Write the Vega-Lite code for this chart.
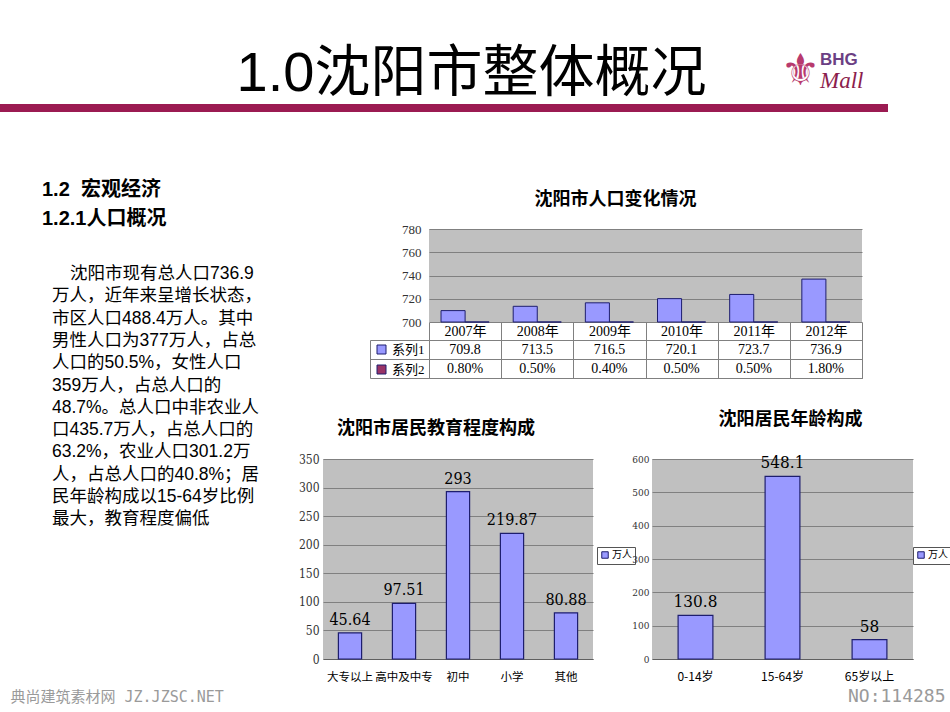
{
  "$schema": "https://vega.github.io/schema/vega-lite/v6.json",
  "padding": {"left": 0, "top": 46, "right": 0, "bottom": 0},
  "background": "#ffffff",
  "bounds": "flush",
  "spacing": 125,
  "config": {"font": "Liberation Sans, Noto Sans CJK SC", "view": {"stroke": null}},
  "resolve": {"scale": {"color": "independent"}, "legend": {"color": "independent"}},
  "datasets": {
    "paragraph": [
      {"line": "沈阳市现有总人口736.9"},
      {"line": "万人，近年来呈增长状态，"},
      {"line": "市区人口488.4万人。其中"},
      {"line": "男性人口为377万人，占总"},
      {"line": "人口的50.5%，女性人口"},
      {"line": "359万人，占总人口的"},
      {"line": "48.7%。总人口中非农业人"},
      {"line": "口435.7万人，占总人口的"},
      {"line": "63.2%，农业人口301.2万"},
      {"line": "人，占总人口的40.8%；居"},
      {"line": "民年龄构成以15-64岁比例"},
      {"line": "最大，教育程度偏低"}
    ],
    "pop": [
      {"year": "2007年", "series": "系列1", "value": 709.8, "label": "709.8"},
      {"year": "2007年", "series": "系列2", "value": 0.8, "label": "0.80%"},
      {"year": "2008年", "series": "系列1", "value": 713.5, "label": "713.5"},
      {"year": "2008年", "series": "系列2", "value": 0.5, "label": "0.50%"},
      {"year": "2009年", "series": "系列1", "value": 716.5, "label": "716.5"},
      {"year": "2009年", "series": "系列2", "value": 0.4, "label": "0.40%"},
      {"year": "2010年", "series": "系列1", "value": 720.1, "label": "720.1"},
      {"year": "2010年", "series": "系列2", "value": 0.5, "label": "0.50%"},
      {"year": "2011年", "series": "系列1", "value": 723.7, "label": "723.7"},
      {"year": "2011年", "series": "系列2", "value": 0.5, "label": "0.50%"},
      {"year": "2012年", "series": "系列1", "value": 736.9, "label": "736.9"},
      {"year": "2012年", "series": "系列2", "value": 1.8, "label": "1.80%"}
    ],
    "edu": [
      {"level": "大专以上", "value": 45.64},
      {"level": "高中及中专", "value": 97.51},
      {"level": "初中", "value": 293},
      {"level": "小学", "value": 219.87},
      {"level": "其他", "value": 80.88}
    ],
    "age": [
      {"group": "0-14岁", "value": 130.8},
      {"group": "15-64岁", "value": 548.1},
      {"group": "65岁以上", "value": 58}
    ]
  },
  "vconcat": [
    {
      "hconcat": [
        {
          "width": 783, "height": 8,
          "data": {"values": [{}]},
          "mark": {"type": "text", "text": ""},
          "encoding": {},
          "view": {"fill": "#9B1B52", "stroke": null},
          "title": {"text": "1.0沈阳市整体概况", "anchor": "middle", "frame": "group", "dx": 80, "fontSize": 56, "fontWeight": "normal", "font": "Liberation Sans, Noto Sans CJK SC", "color": "#000000", "offset": -1}
        },
        {
          "width": 35, "height": 8,
          "data": {"values": [{}]},
          "mark": {"type": "text", "text": ""},
          "encoding": {},
          "view": {"fill": "#9B1B52", "stroke": null},
          "title": {"text": "⚜", "anchor": "middle", "frame": "group", "fontSize": 44, "fontWeight": "normal", "font": "DejaVu Sans", "color": "#B83A6E", "offset": 8}
        },
        {
          "width": 70, "height": 8,
          "data": {"values": [{}]},
          "mark": {"type": "text", "text": ""},
          "encoding": {},
          "view": {"fill": "#9B1B52", "stroke": null},
          "title": {"text": "BHG", "subtitle": "Mall", "anchor": "start", "frame": "group", "dx": 2, "fontSize": 17, "fontWeight": "bold", "font": "Liberation Sans", "color": "#6B3F84", "subtitleFont": "Liberation Serif", "subtitleFontStyle": "italic", "subtitleFontSize": 23, "subtitleColor": "#8C1D4D", "subtitlePadding": 1, "offset": 8}
        }
      ],
      "spacing": 0,
      "bounds": "flush"
    },
    {
      "hconcat": [
        {
          "width": 104, "height": 335,
          "data": {"name": "paragraph"},
          "title": {"text": ["1.2\u00a0\u00a0宏观经济", "1.2.1人口概况"], "anchor": "start", "frame": "group", "dx": 42, "fontSize": 20, "fontWeight": "bold", "font": "Liberation Sans, Noto Sans CJK SC", "lineHeight": 29, "offset": 0, "color": "#000000"},
          "encoding": {
            "y": {"field": "line", "type": "nominal", "sort": null, "scale": {"type": "point", "range": [45, 290.3], "padding": 0},
              "axis": {"labels": false, "ticks": false, "domain": false, "title": "典尚建筑素材网 JZ.JZSC.NET", "titleAngle": 0, "titleX": 10, "titleY": 467, "titleAlign": "left", "titleBaseline": "middle", "titleFont": "DejaVu Sans Mono, Noto Sans CJK SC", "titleFontSize": 15, "titleFontWeight": "normal", "titleColor": "#9a9a9a"}}
          },
          "layer": [
            {
              "mark": {"type": "text", "align": "left", "baseline": "middle", "fontSize": 17.5, "font": "Liberation Sans, Noto Sans CJK SC", "color": "#000000"},
              "encoding": {"text": {"condition": {"test": "indexof(datum.line, '沈阳市现有') === 0", "value": ""}, "field": "line"}}
            },
            {
              "mark": {"type": "text", "align": "left", "baseline": "middle", "dx": 18, "fontSize": 17.5, "font": "Liberation Sans, Noto Sans CJK SC", "color": "#000000"},
              "encoding": {"text": {"condition": {"test": "indexof(datum.line, '沈阳市现有') !== 0", "value": ""}, "field": "line"}}
            }
          ]
        },
        {
          "vconcat": [
            {
              "hconcat": [
                {
                  "width": 106, "height": 149,
                  "data": {"values": [{}]},
                  "mark": {"type": "text", "text": ""},
                  "encoding": {}
                },
                {
                  "vconcat": [
                    {
                      "width": 433, "height": 93,
                      "data": {"name": "pop"},
                      "view": {"fill": "#C0C0C0", "stroke": null},
                      "title": {"text": "沈阳市人口变化情况", "anchor": "middle", "frame": "group", "dx": -30, "fontSize": 18, "fontWeight": "bold", "font": "Noto Sans CJK SC", "color": "#000000", "offset": 14},
                      "mark": {"type": "bar", "stroke": "#1E1E6E", "strokeWidth": 1},
                      "encoding": {
                        "x": {"field": "year", "type": "nominal", "sort": null, "scale": {"paddingInner": 0.333, "paddingOuter": 0.1667}, "axis": null},
                        "xOffset": {"field": "series", "type": "nominal", "scale": {"domain": ["系列1", "系列2"], "paddingInner": 0, "paddingOuter": 0}},
                        "y": {"field": "value", "type": "quantitative", "scale": {"domain": [700, 780], "zero": false, "clamp": true, "nice": false},
                          "axis": {"values": [700, 720, 740, 760, 780], "title": null, "grid": true, "gridColor": "#808080", "domain": false, "ticks": false, "labelFont": "Liberation Serif", "labelFontSize": 13, "labelColor": "#333333", "labelPadding": 8}},
                        "color": {"field": "series", "type": "nominal", "scale": {"domain": ["系列1", "系列2"], "range": ["#9999FF", "#993366"]},
                          "legend": {"orient": "none", "legendX": -54, "legendY": 114, "title": null, "symbolType": "square", "symbolSize": 81, "symbolStrokeColor": "#1E1E6E", "symbolStrokeWidth": 1, "symbolOpacity": 1, "labelFont": "Liberation Serif, Noto Sans CJK SC", "labelFontSize": 13, "labelColor": "#000000", "rowPadding": 6, "padding": 0, "labelOffset": 4}}
                      }
                    },
                    {
                      "width": 433, "height": 38,
                      "data": {"name": "pop"},
                      "view": {"stroke": "#808080", "fill": null},
                      "mark": {"type": "text", "font": "Liberation Serif, Noto Sans CJK SC", "fontSize": 14, "color": "#000000"},
                      "encoding": {
                        "x": {"field": "year", "type": "nominal", "sort": null, "scale": {"paddingInner": 0, "paddingOuter": 0},
                          "axis": {"orient": "top", "title": null, "tickBand": "extent", "grid": true, "gridColor": "#808080", "tickColor": "#808080", "tickSize": 18, "domainColor": "#808080", "labelFont": "Liberation Serif, Noto Sans CJK SC", "labelFontSize": 14, "labelColor": "#000000", "labelPadding": -16, "labelAngle": 0}},
                        "y": {"field": "series", "type": "nominal", "scale": {"domain": ["系列1", "系列2"], "paddingInner": 0, "paddingOuter": 0},
                          "axis": {"title": null, "labels": false, "tickBand": "extent", "grid": true, "gridColor": "#808080", "tickColor": "#808080", "tickSize": -59, "offset": 59, "domainColor": "#808080"}},
                        "text": {"field": "label"}
                      }
                    }
                  ],
                  "spacing": 18,
                  "bounds": "flush",
                  "resolve": {"scale": {"color": "independent"}, "legend": {"color": "independent"}}
                }
              ],
              "spacing": 0,
              "bounds": "flush",
              "resolve": {"scale": {"color": "independent"}, "legend": {"color": "independent"}}
            },
            {
              "hconcat": [
                {
                  "width": 270, "height": 200,
                  "data": {"name": "edu"},
                  "view": {"fill": "#C0C0C0", "stroke": null},
                  "title": {"text": "沈阳市居民教育程度构成", "anchor": "start", "frame": "group", "dx": 14, "fontSize": 18, "fontWeight": "bold", "font": "Noto Sans CJK SC", "color": "#000000", "offset": 15},
                  "encoding": {
                    "x": {"field": "level", "type": "nominal", "sort": null, "scale": {"paddingInner": 0.57, "paddingOuter": 0.285},
                      "axis": {"title": null, "labelAngle": 0, "labelFont": "Noto Sans CJK SC", "labelFontSize": 11.5, "labelColor": "#000000", "labelPadding": 12, "ticks": false, "domainColor": "#606060"}},
                    "y": {"field": "value", "type": "quantitative", "scale": {"domain": [0, 350], "nice": false},
                      "axis": {"values": [0, 50, 100, 150, 200, 250, 300, 350], "title": null, "grid": true, "gridColor": "#808080", "domain": false, "ticks": false, "labelFont": "DejaVu Serif Condensed, Liberation Serif", "labelFontSize": 12, "labelColor": "#333333", "labelPadding": 4}}
                  },
                  "layer": [
                    {
                      "mark": {"type": "bar", "stroke": "#1E1E6E", "strokeWidth": 1.2},
                      "encoding": {
                        "color": {"datum": "万人", "scale": {"domain": ["万人"], "range": ["#9999FF"]},
                          "legend": {"orient": "none", "legendX": 274, "legendY": 88, "title": null, "symbolType": "square", "symbolSize": 42, "symbolStrokeColor": "#1E1E6E", "symbolStrokeWidth": 1, "symbolOpacity": 1, "labelFont": "Noto Sans CJK SC", "labelFontSize": 10, "labelColor": "#000000", "labelOffset": 2, "strokeColor": "#555555", "fillColor": "#ffffff", "padding": 3}}
                      }
                    },
                    {
                      "mark": {"type": "text", "baseline": "alphabetic", "dy": -8, "fontSize": 16, "font": "DejaVu Serif Condensed, Liberation Serif", "color": "#000000"},
                      "encoding": {"text": {"field": "value", "type": "quantitative"}}
                    }
                  ]
                },
                {
                  "width": 261, "height": 200,
                  "data": {"name": "age"},
                  "view": {"fill": "#C0C0C0", "stroke": null},
                  "title": {"text": "沈阳居民年龄构成", "anchor": "middle", "frame": "group", "dx": 8, "fontSize": 18, "fontWeight": "bold", "font": "Noto Sans CJK SC", "color": "#000000", "offset": 25},
                  "encoding": {
                    "x": {"field": "group", "type": "nominal", "sort": null, "scale": {"paddingInner": 0.6, "paddingOuter": 0.3},
                      "axis": {"title": "NO:114285", "titleAnchor": "end", "titleX": 293, "titleY": 37, "titleAlign": "right", "titleBaseline": "middle", "titleFont": "DejaVu Sans Mono", "titleFontSize": 18, "titleFontWeight": "normal", "titleColor": "#9a9a9a", "labelAngle": 0, "labelFont": "Noto Sans CJK SC", "labelFontSize": 12, "labelColor": "#000000", "labelPadding": 12, "ticks": false, "domainColor": "#606060"}},
                    "y": {"field": "value", "type": "quantitative", "scale": {"domain": [0, 600], "nice": false},
                      "axis": {"values": [0, 100, 200, 300, 400, 500, 600], "title": null, "grid": true, "gridColor": "#808080", "domain": false, "ticks": false, "labelFont": "DejaVu Serif Condensed, Liberation Serif", "labelFontSize": 10, "labelColor": "#333333", "labelPadding": 3}}
                  },
                  "layer": [
                    {
                      "mark": {"type": "bar", "stroke": "#1E1E6E", "strokeWidth": 1.2},
                      "encoding": {
                        "color": {"datum": "万人", "scale": {"domain": ["万人"], "range": ["#9999FF"]},
                          "legend": {"orient": "none", "legendX": 261, "legendY": 88, "title": null, "symbolType": "square", "symbolSize": 42, "symbolStrokeColor": "#1E1E6E", "symbolStrokeWidth": 1, "symbolOpacity": 1, "labelFont": "Noto Sans CJK SC", "labelFontSize": 10, "labelColor": "#000000", "labelOffset": 2, "strokeColor": "#555555", "fillColor": "#ffffff", "padding": 3}}
                      }
                    },
                    {
                      "mark": {"type": "text", "baseline": "alphabetic", "dy": -8, "fontSize": 17, "font": "DejaVu Serif Condensed, Liberation Serif", "color": "#000000"},
                      "encoding": {"text": {"field": "value", "type": "quantitative"}}
                    }
                  ]
                }
              ],
              "spacing": 59,
              "bounds": "flush",
              "resolve": {"scale": {"color": "independent"}, "legend": {"color": "independent"}}
            }
          ],
          "spacing": 230,
          "bounds": "flush",
          "resolve": {"scale": {"color": "independent"}, "legend": {"color": "independent"}}
        }
      ],
      "spacing": 219,
      "bounds": "flush",
      "resolve": {"scale": {"color": "independent"}, "legend": {"color": "independent"}}
    }
  ]
}
